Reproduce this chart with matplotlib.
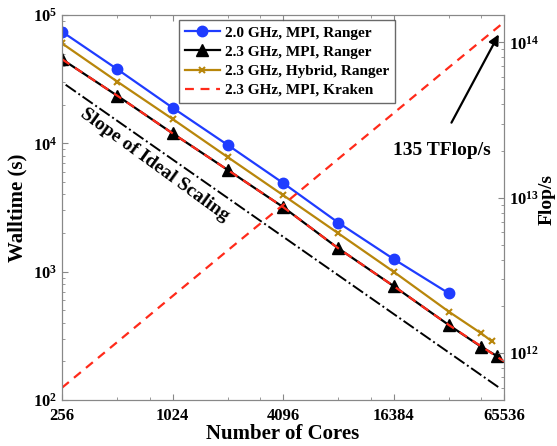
import matplotlib.pyplot as plt
import numpy as np
from matplotlib.ticker import FixedLocator, NullFormatter, LogLocator

plt.rcParams['font.family'] = ['Liberation Serif', 'DejaVu Serif']
plt.rcParams['font.weight'] = 'bold'
plt.rcParams['mathtext.fontset'] = 'custom'
plt.rcParams['mathtext.rm'] = 'Liberation Serif:bold'
plt.rcParams['mathtext.it'] = 'Liberation Serif:italic:bold'
plt.rcParams['mathtext.bf'] = 'Liberation Serif:bold'

# walltime data (s)
cores_20_mpi = [256, 512, 1024, 2048, 4096, 8192, 16384, 32768]
wall_20_mpi = [74100, 37800, 18950, 9700, 4910, 2410, 1255, 678]

cores_23_mpi = [256, 512, 1024, 2048, 4096, 8192, 16384, 32768, 49152, 60000]
wall_23_mpi = [45200, 23500, 11970, 6200, 3190, 1520, 773, 384, 260, 220]

cores_hybrid = [256, 512, 1024, 2048, 4096, 8192, 16384, 32768, 49152, 56000]
wall_hybrid = [60100, 30260, 15480, 7800, 3950, 1990, 1000, 488, 331, 288]

cores_kraken = [256, 512, 1024, 2048, 4096, 8192, 16384, 32768, 65536]
wall_kraken = [45200, 23500, 11970, 6200, 3190, 1520, 773, 384, 200]
flops_kraken = [6.0e11, 1.18e12, 2.33e12, 4.59e12, 9.0e12, 1.78e13, 3.5e13, 6.9e13, 1.35e14]

cores_ideal = [268, 62000]
wall_ideal = [28600, 124]

xticks = [256, 1024, 4096, 16384, 65536]
xminor = [512, 768, 2048, 3072, 8192, 12288, 32768, 49152]

fig = plt.figure(figsize=(5.57, 4.46), dpi=100)
ax = fig.add_axes([0.1113, 0.1031, 0.7937, 0.8633])
ax2 = ax.twinx()

ax.plot(cores_ideal, wall_ideal, color='black', linestyle='-.', linewidth=1.4)
h1, = ax.plot(cores_20_mpi, wall_20_mpi, color='#1f3cff', marker='o', markersize=7.5,
              linewidth=1.6, label='2.0 GHz, MPI, Ranger')
h3, = ax.plot(cores_hybrid, wall_hybrid, color='#b8860b', marker='x', markersize=5,
              markeredgewidth=1.5, linewidth=1.6, label='2.3 GHz, Hybrid, Ranger')
h2, = ax.plot(cores_23_mpi, wall_23_mpi, color='black', marker='^', markersize=8.5,
              linewidth=1.6, label='2.3 GHz, MPI, Ranger')
h4, = ax.plot(cores_kraken, wall_kraken, color='#ff2a1a', linestyle='--', linewidth=1.6,
              dashes=(4, 3), label='2.3 GHz, MPI, Kraken')
ax2.plot(cores_kraken, flops_kraken, color='#ff2a1a', linestyle='--', linewidth=1.6,
         dashes=(4, 3))

ax.set_xscale('log', base=2)
ax.set_yscale('log')
ax2.set_yscale('log')
ax.set_xlim(256, 65536)
ax.set_ylim(1e2, 1e5)
ax2.set_ylim(5e11, 1.5e14)

ax.xaxis.set_major_locator(FixedLocator(xticks))
ax.set_xticklabels([str(t) for t in xticks])
ax.xaxis.set_minor_locator(FixedLocator(xminor))
ax.xaxis.set_minor_formatter(NullFormatter())
ax.yaxis.set_minor_locator(LogLocator(base=10, subs=np.arange(2, 10)))
ax.yaxis.set_minor_formatter(NullFormatter())
ax2.yaxis.set_minor_locator(LogLocator(base=10, subs=np.arange(2, 10)))
ax2.yaxis.set_minor_formatter(NullFormatter())

ax.tick_params(which='both', direction='in', top=True, right=False, labelsize=12)
ax.tick_params(which='major', length=4)
ax.tick_params(which='minor', length=2)
ax.tick_params(axis='x', pad=6)
ax2.tick_params(which='both', direction='in', labelsize=12)
ax2.tick_params(which='major', length=4)
ax2.tick_params(which='minor', length=2)
for a in (ax, ax2):
    for s in a.spines.values():
        s.set_color('#888888')
ax.tick_params(which='both', color='#888888')
ax2.tick_params(which='both', color='#888888')

ax.set_xlabel('Number of Cores', fontsize=15, fontweight='bold', labelpad=0)
ax.set_ylabel('Walltime (s)', fontsize=15, fontweight='bold', labelpad=4)
ax2.set_ylabel('Flop/s', fontsize=14, fontweight='bold')
ax2.yaxis.set_label_coords(1.078, 0.52)

ax.text(0.21, 0.61, 'Slope of Ideal Scaling', transform=ax.transAxes, fontsize=14,
        fontweight='bold', rotation=-36, ha='center', va='center')
ax.annotate('', xy=(0.991, 0.956), xytext=(0.878, 0.714), xycoords='axes fraction',
            arrowprops=dict(arrowstyle='-|>', color='black', lw=1.6, mutation_scale=15))
ax.text(0.86, 0.648, '135 TFlop/s', transform=ax.transAxes, fontsize=14,
        fontweight='bold', ha='center', va='center')

leg = ax2.legend([h1, h2, h3, h4], [h.get_label() for h in (h1, h2, h3, h4)],
                 loc='upper right', bbox_to_anchor=(0.753, 0.987), fontsize=11,
                 frameon=True, fancybox=False, handlelength=2.3, borderpad=0.4,
                 labelspacing=0.35, handletextpad=0.3, borderaxespad=0)
leg.get_frame().set_edgecolor('#444444')
leg.get_frame().set_linewidth(1.0)

fig.savefig('out.png', dpi=100)
